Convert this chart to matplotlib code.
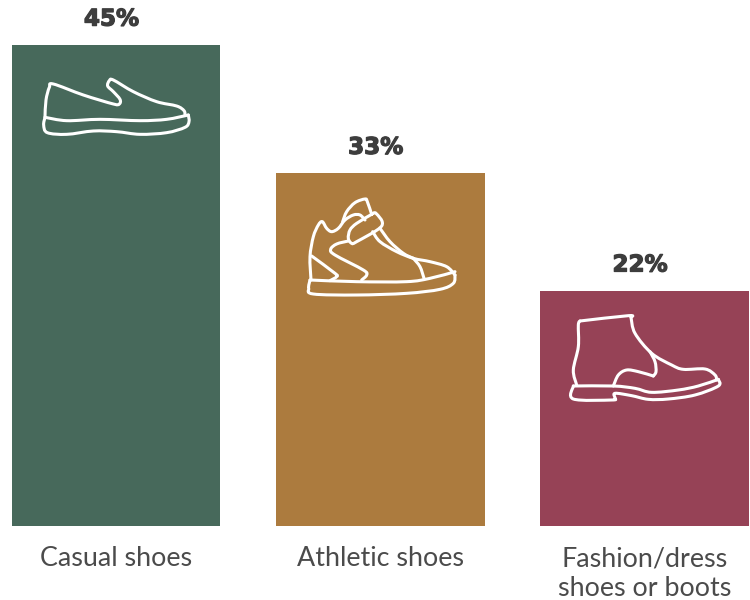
import numpy as np
import matplotlib
matplotlib.use("Agg")
import matplotlib.pyplot as plt
import matplotlib.patheffects as pe
from matplotlib.path import Path
from matplotlib.patches import PathPatch

categories = ["Casual shoes", "Athletic shoes", "Fashion/dress\nshoes or boots"]
shares = [45, 33, 22]
colors = ["#47695b", "#ac7b3e", "#964256"]

W, H = 750, 600
fig = plt.figure(figsize=(W / 100, H / 100), dpi=100, facecolor="white")

# Bars sit on a baseline 74 px above the bottom edge.
ax = fig.add_axes([0, 74 / H, 1, 526 / H])
xs = np.arange(len(categories))
step = 264.25
ax.bar(xs, shares, width=208.6 / step, color=colors, linewidth=0)
ax.set_xlim(-116 / step, (W - 116) / step)
ax.set_ylim(0, 526 / 10.69)
ax.axis("off")

for x, v in zip(xs, shares):
    ax.annotate(f"{v}%", (x, v), xytext=(-3.2, 18.6), textcoords="offset points",
                ha="center", va="center", family="DejaVu Sans",
                weight="bold", fontsize=16.6, color="#3d3d3d",
                path_effects=[pe.withStroke(linewidth=0.9, foreground="#3d3d3d")])

for x, name in zip(xs, categories):
    ax.annotate(name, (x, 0), xytext=(0, -14.6), textcoords="offset points",
                ha="center", va="top", family="Lato", fontsize=19.4,
                color="#4b4b4b", linespacing=1.24, annotation_clip=False)

# Overlay in pixel space for the line-art shoe icons.
ov = fig.add_axes([0, 0, 1, 1])
ov.set_xlim(0, W)
ov.set_ylim(H, 0)
ov.axis("off")
ov.patch.set_alpha(0)


def stroke(points, origin):
    """Draw a smooth white stroke through 3x-scaled icon coordinates."""
    p = np.array(points, float) / 3 + origin
    ext = np.vstack([p[0], p, p[-1]])
    verts = [p[0]]
    codes = [Path.MOVETO]
    for i in range(1, len(ext) - 2):
        c1 = ext[i] + (ext[i + 1] - ext[i - 1]) / 6
        c2 = ext[i + 1] - (ext[i + 2] - ext[i]) / 6
        verts += [c1, c2, ext[i + 1]]
        codes += [Path.CURVE4] * 3
    ov.add_patch(PathPatch(Path(verts, codes), fill=False, edgecolor="white",
                           linewidth=2.2, capstyle="round", joinstyle="round"))


loafer = [
    [(135, 350), (138, 300), (148, 262), (160, 252), (250, 285), (340, 312),
     (358, 312), (360, 298), (340, 275), (323, 258), (328, 242), (340, 240),
     (400, 275), (470, 305), (530, 318), (552, 332), (555, 345)],
    [(135, 352), (200, 362), (300, 358), (420, 362), (500, 358), (565, 345)],
    [(135, 352), (131, 375), (142, 398), (200, 403), (280, 393), (350, 395),
     (420, 403), (500, 398), (555, 382), (567, 365), (565, 345)],
]
sneaker = [
    [(63, 330), (60, 260), (70, 200), (85, 165), (97, 155), (110, 175),
     (125, 185), (145, 175), (165, 150), (190, 135), (210, 135), (225, 150)],
    [(158, 155), (170, 125), (195, 98), (225, 87), (232, 95), (245, 133)],
    [(245, 133), (258, 130), (275, 168), (200, 215), (185, 220), (175, 205),
     (180, 180), (200, 160), (245, 133)],
    [(248, 185), (270, 215), (320, 245), (370, 265), (420, 275), (470, 290),
     (495, 315)],
    [(270, 175), (300, 215), (340, 250), (370, 265)],
    [(370, 265), (390, 290), (402, 325)],
    [(175, 213), (140, 222), (122, 238), (135, 255), (220, 300), (230, 315),
     (215, 330)],
    [(65, 258), (135, 310), (140, 320), (120, 332)],
    [(60, 330), (200, 335), (350, 335), (420, 325), (495, 305)],
    [(60, 330), (56, 355), (70, 372), (200, 375), (350, 370), (450, 358),
     (490, 340), (495, 315)],
]
boot = [
    [(65, 255), (55, 210), (70, 140), (70, 75), (75, 63)],
    [(75, 63), (220, 47), (228, 52)],
    [(228, 52), (240, 100), (290, 160), (350, 195), (385, 208), (450, 207),
     (480, 225), (485, 240)],
    [(175, 258), (190, 225), (215, 210), (250, 215), (295, 228)],
    [(295, 228), (303, 215), (300, 185), (285, 155)],
    [(55, 258), (175, 258), (240, 265), (290, 277), (370, 270), (430, 258),
     (490, 238)],
    [(55, 258), (55, 297), (170, 300), (180, 295), (180, 280), (230, 287),
     (280, 298), (340, 297), (420, 285), (490, 258), (490, 238)],
]

for strokes, origin in [(loafer, (0, 0)), (sneaker, (290, 170)), (boot, (555, 300))]:
    for s in strokes:
        stroke(s, np.array(origin, float))

fig.savefig("out.png", dpi=100, facecolor="white")
